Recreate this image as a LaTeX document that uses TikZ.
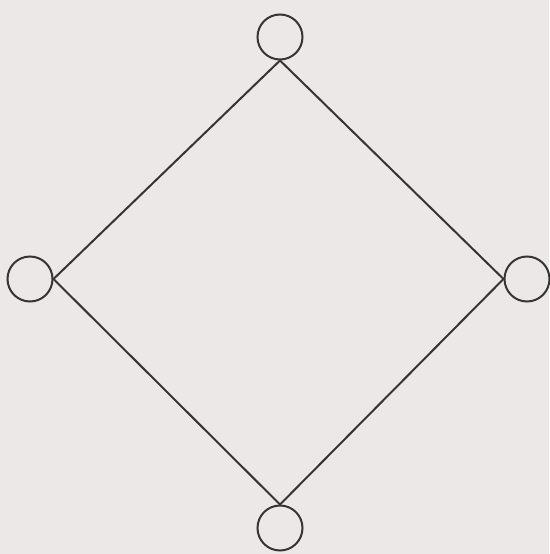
\documentclass[tikz,border=0pt]{standalone}
\definecolor{paper}{RGB}{237,232,232}
\definecolor{ink}{RGB}{55,52,52}
\begin{document}
\begin{tikzpicture}[x=1pt, y=-1pt, line width=2pt,
  vertex/.style={circle, draw=ink, minimum size=45pt, inner sep=0pt}]
  % page background
  \fill[paper] (0,0) rectangle (549,554);
  \useasboundingbox (0,0) rectangle (549,554);

  % --- four vertices ---
  \node[vertex] (top)    at (280,37)  {};
  \node[vertex] (left)   at (30,279)  {};
  \node[vertex] (right)  at (527,279) {};
  \node[vertex] (bottom) at (280,528) {};

  % --- edges of the diamond ---
  \draw[ink] (left.east)  -- (top.south);
  \draw[ink] (top.south)  -- (right.west);
  \draw[ink] (right.west) -- (bottom.north);
  \draw[ink] (bottom.north) -- (left.east);
\end{tikzpicture}
\end{document}
